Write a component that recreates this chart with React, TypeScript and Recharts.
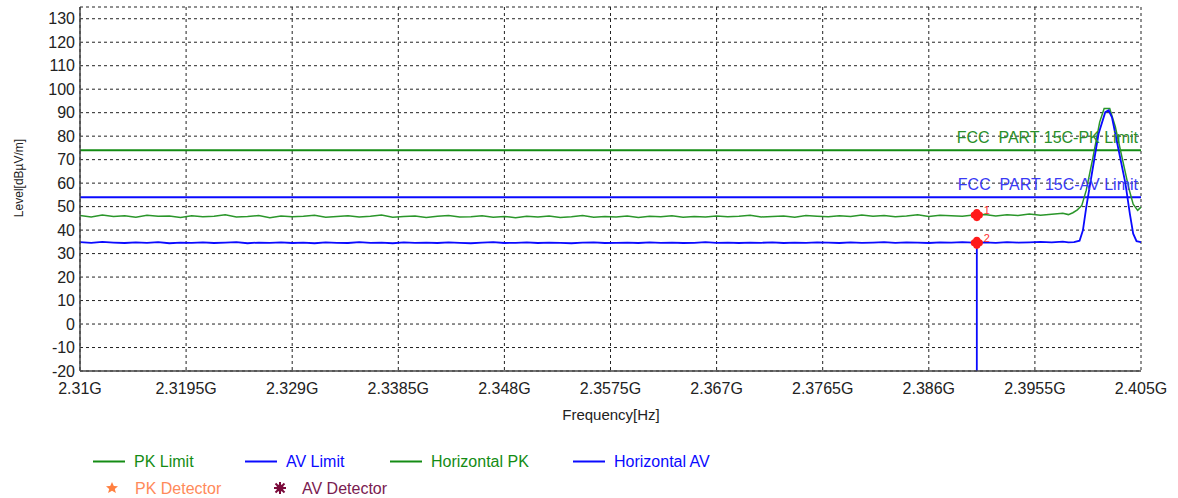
import {
  ComposedChart,
  Line,
  Scatter,
  XAxis,
  YAxis,
  CartesianGrid,
  LabelList,
} from 'recharts'

// sweep frequencies in GHz
const sweepFreq = [
  2.31, 2.311, 2.312, 2.313, 2.314, 2.315, 2.316, 2.317, 2.318, 2.319,
  2.32, 2.321, 2.322, 2.323, 2.324, 2.325, 2.326, 2.327, 2.328, 2.329,
  2.33, 2.331, 2.332, 2.333, 2.334, 2.335, 2.336, 2.337, 2.338, 2.339,
  2.34, 2.341, 2.342, 2.343, 2.344, 2.345, 2.346, 2.347, 2.348, 2.349,
  2.35, 2.351, 2.352, 2.353, 2.354, 2.355, 2.356, 2.357, 2.358, 2.359,
  2.36, 2.361, 2.362, 2.363, 2.364, 2.365, 2.366, 2.367, 2.368, 2.369,
  2.37, 2.371, 2.372, 2.373, 2.374, 2.375, 2.376, 2.377, 2.378, 2.379,
  2.38, 2.381, 2.382, 2.383, 2.384, 2.385, 2.386, 2.387, 2.388, 2.389,
  2.39, 2.391, 2.392, 2.393, 2.394, 2.395, 2.396, 2.397, 2.398,
]

const pkSweep = [
  46.2, 45.6, 46.4, 45.8, 46.1, 45.5, 46.3, 45.9, 46.0, 45.4,
  46.1, 45.7, 45.9, 46.5, 45.6, 45.8, 46.2, 45.3, 46.0, 45.7,
  45.9, 46.3, 45.5, 45.8, 46.1, 45.6, 45.9, 46.4, 45.5, 45.8,
  46.0, 45.4, 45.9, 46.2, 45.6, 45.7, 46.1, 45.5, 45.8, 45.3,
  45.9, 45.6, 46.0, 45.4, 45.7, 46.2, 45.5, 45.8, 45.6, 46.0,
  45.4, 45.9, 45.7, 46.1, 45.5, 45.8, 45.6, 46.0, 45.7, 45.9,
  46.3, 45.6, 45.8, 46.0, 45.5, 46.2, 45.9, 45.7, 46.1, 45.8,
  46.4, 45.9, 46.2, 45.7, 46.0, 46.5, 45.8, 46.3, 46.1, 45.9,
  46.4, 46.6, 46.0, 46.5, 46.2, 46.8, 46.3, 46.7, 47.2,
]

const avSweep = [
  34.9, 34.6, 35.0, 34.7, 34.5, 34.8, 34.6, 34.9, 34.4, 34.7,
  34.6, 34.8, 34.5, 34.7, 34.9, 34.4, 34.7, 34.6, 34.8, 34.5,
  34.7, 34.4, 34.8, 34.6, 34.5, 34.9, 34.6, 34.7, 34.4, 34.8,
  34.6, 34.7, 34.5, 34.8, 34.6, 34.4, 34.7, 34.9, 34.5, 34.6,
  34.8, 34.5, 34.7, 34.6, 34.4, 34.7, 34.8, 34.5, 34.6, 34.7,
  34.5, 34.8, 34.6, 34.7, 34.5, 34.6, 34.9, 34.6, 34.7, 34.5,
  34.7, 34.6, 34.8, 34.5, 34.7, 34.6, 34.8, 34.7, 34.5, 34.8,
  34.6, 34.7, 34.9, 34.6, 34.8, 34.7, 34.5, 34.8, 34.7, 34.9,
  34.7, 34.8, 34.6, 34.9, 34.7, 34.8, 35.0, 34.8, 35.1,
]

// carrier at the band edge
const pkEdgeFreq = [2.3985, 2.3989, 2.3993, 2.3997, 2.4001, 2.4007, 2.4013, 2.4017, 2.4022, 2.4027, 2.4033, 2.4039, 2.4043, 2.4047, 2.405]
const pkEdgeLevel = [46.6, 47.4, 48.6, 50.5, 57.0, 71.0, 86.0, 91.8, 91.8, 84.0, 71.0, 58.0, 51.0, 48.4, 49.8]

const avEdgeFreq = [2.3985, 2.399, 2.3995, 2.3998, 2.4001, 2.4006, 2.4012, 2.4018, 2.4021, 2.4024, 2.403, 2.4036, 2.404, 2.4043, 2.4046, 2.405]
const avEdgeLevel = [34.8, 34.9, 35.5, 39.9, 49.8, 64.0, 81.0, 90.2, 91.0, 88.0, 74.0, 60.0, 47.0, 38.5, 35.3, 34.9]

// dropout on the AV trace at the marker
const avSpikeFreq = [2.3903, 2.3903, 2.3903]
const avSpikeLevel = [34.6, -20, 34.6]

const limitFreq = [2.31, 2.405]
const pkLimit = [74, 74]
const avLimit = [54, 54]

const markerFreq = [2.3903, 2.3903]
const markerLevel = [46.4, 34.6]
const markerNo = ['1', '2']

const xTicks = [2.31, 2.3195, 2.329, 2.3385, 2.348, 2.3575, 2.367, 2.3765, 2.386, 2.3955, 2.405]
const yTicks = [-20, -10, 0, 10, 20, 30, 40, 50, 60, 70, 80, 90, 100, 110, 120, 130]

const GREEN = '#148c14'
const GREEN_TRACE = '#2a962a'
const BLUE = '#0a0aff'
const FONT = "'Liberation Sans', Arial, sans-serif"

const toPts = (f: number[], l: number[]) => f.map((freq, i) => ({ freq, level: l[i] }))

const pkData = [...toPts(sweepFreq, pkSweep), ...toPts(pkEdgeFreq, pkEdgeLevel)].sort((a, b) => a.freq - b.freq)
const avData = [
  ...toPts(sweepFreq, avSweep),
  ...toPts(avSpikeFreq, avSpikeLevel),
  ...toPts(avEdgeFreq, avEdgeLevel),
].sort((a, b) => a.freq - b.freq)
const pkLimitData = toPts(limitFreq, pkLimit)
const avLimitData = toPts(limitFreq, avLimit)
const markerData = markerFreq.map((freq, i) => ({ freq, level: markerLevel[i], no: markerNo[i] }))

const limitLabel = (text: string, color: string) => (props: any) => {
  if (props.index !== limitFreq.length - 1) return null
  return (
    <text
      x={props.x - 3}
      y={props.y - 7}
      textAnchor="end"
      fill={color}
      fontSize={16}
      fontFamily={FONT}
      style={{ whiteSpace: 'pre' }}
    >
      {text}
    </text>
  )
}

const MarkerDot = (props: any) => {
  const { cx, cy, payload } = props
  return (
    <g>
      <circle cx={cx - 2.5} cy={cy} r={3.6} fill="#ff1a1a" />
      <circle cx={cx + 2.5} cy={cy} r={3.6} fill="#ff1a1a" />
      <circle cx={cx} cy={cy - 2.5} r={3.6} fill="#ff1a1a" />
      <circle cx={cx} cy={cy + 2.5} r={3.6} fill="#ff1a1a" />
      <text x={cx + 7} y={cy - 1} fontSize={11} fill="#ff3030" fontFamily={FONT}>
        {payload.no}
      </text>
    </g>
  )
}

const legendRow1 = [
  { label: 'PK Limit', color: GREEN, x: 93 },
  { label: 'AV Limit', color: BLUE, x: 245 },
  { label: 'Horizontal PK', color: GREEN, x: 390 },
  { label: 'Horizontal AV', color: BLUE, x: 573 },
]

export default function App() {
  return (
    <div style={{ position: 'absolute', left: 0, top: 0, width: 1178, height: 498, background: '#fff' }}>
      <ComposedChart
        width={1178}
        height={498}
        margin={{ top: 7, right: 37, bottom: 97, left: 0 }}
        style={{ fontFamily: FONT }}
      >
        <CartesianGrid stroke="#222" strokeDasharray="3 3" strokeWidth={1} />
        <XAxis
          dataKey="freq"
          type="number"
          domain={[2.31, 2.405]}
          ticks={xTicks}
          interval={0}
          allowDataOverflow
          height={30}
          tickLine={false}
          tickSize={0}
          tickMargin={12}
          tickFormatter={(v: number) => `${v}G`}
          tick={{ fontSize: 16, fill: '#222', fontFamily: FONT }}
          axisLine={{ stroke: '#444', strokeWidth: 1.5 }}
        />
        <YAxis
          type="number"
          domain={[-20, 135]}
          ticks={yTicks}
          interval={0}
          allowDataOverflow
          width={80}
          tickLine={false}
          tickSize={0}
          tickMargin={5}
          tick={{ fontSize: 16, fill: '#222', fontFamily: FONT }}
          axisLine={{ stroke: '#444', strokeWidth: 1.5 }}
        />
        <Line
          data={pkLimitData}
          dataKey="level"
          stroke={GREEN}
          strokeWidth={2}
          dot={false}
          isAnimationActive={false}
        >
          <LabelList dataKey="level" content={limitLabel('FCC  PART 15C-PK Limit', '#2a8f2a')} />
        </Line>
        <Line
          data={avLimitData}
          dataKey="level"
          stroke={BLUE}
          strokeWidth={2}
          dot={false}
          isAnimationActive={false}
        >
          <LabelList dataKey="level" content={limitLabel('FCC  PART 15C-AV Limit', '#3a3af5')} />
        </Line>
        <Line
          data={pkData}
          dataKey="level"
          type="linear"
          stroke={GREEN_TRACE}
          strokeWidth={1.5}
          dot={false}
          isAnimationActive={false}
        />
        <Line
          data={avData}
          dataKey="level"
          type="linear"
          stroke={BLUE}
          strokeWidth={1.8}
          dot={false}
          isAnimationActive={false}
        />
        <Scatter data={markerData} dataKey="level" shape={MarkerDot} isAnimationActive={false} />
      </ComposedChart>

      <svg
        width={1178}
        height={498}
        style={{ position: 'absolute', left: 0, top: 0, pointerEvents: 'none' }}
        fontFamily={FONT}
      >
        <text
          x={0}
          y={0}
          transform="translate(23 178) rotate(-90)"
          textAnchor="middle"
          fontSize={12}
          fill="#222"
        >
          Level[dBµV/m]
        </text>
        <text x={611} y={420} textAnchor="middle" fontSize={15} fill="#222">
          Frequency[Hz]
        </text>

        {legendRow1.map((it) => (
          <g key={it.label}>
            <line x1={it.x} x2={it.x + 32} y1={461.5} y2={461.5} stroke={it.color} strokeWidth={2} />
            <text x={it.x + 41} y={467} fontSize={16} fill={it.color}>
              {it.label}
            </text>
          </g>
        ))}

        <polygon
          points="112,482 113.8,486 118,486.3 114.8,489 115.9,493 112,490.7 108.1,493 109.2,489 106,486.3 110.2,486"
          fill="#ff7f3f"
        />
        <text x={135} y={494} fontSize={16} fill="#ff8a5a">
          PK Detector
        </text>

        <g stroke="#7a0a3a" strokeWidth={2}>
          <line x1={274} x2={286} y1={488} y2={488} />
          <line x1={280} x2={280} y1={482} y2={494} />
          <line x1={275.5} x2={284.5} y1={483.5} y2={492.5} />
          <line x1={275.5} x2={284.5} y1={492.5} y2={483.5} />
        </g>
        <circle cx={280} cy={488} r={3.5} fill="#7a0a3a" />
        <text x={302} y={494} fontSize={16} fill="#7a2050">
          AV Detector
        </text>
      </svg>
    </div>
  )
}
